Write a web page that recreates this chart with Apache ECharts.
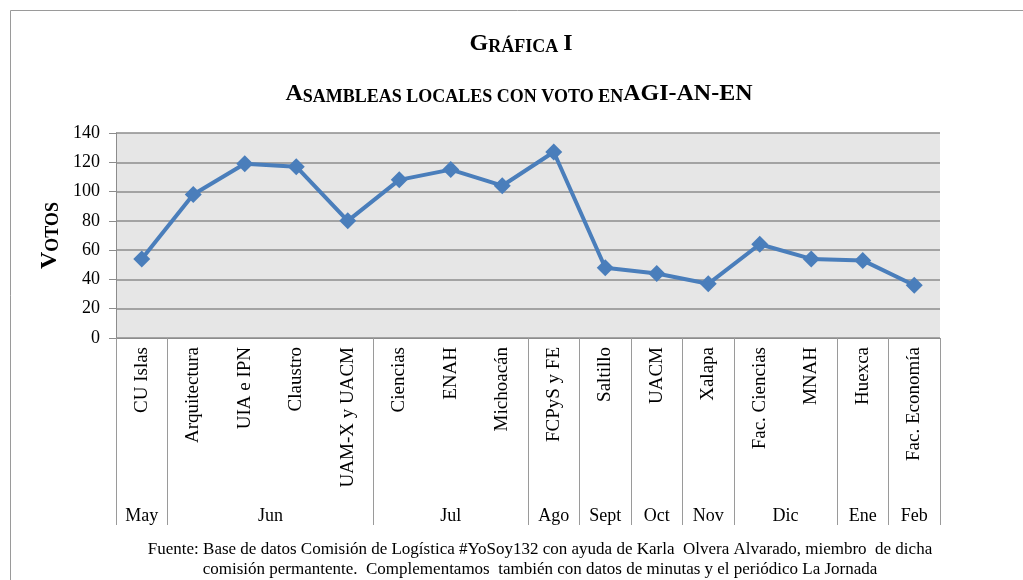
<!DOCTYPE html>
<html>
<head>
<meta charset="utf-8">
<script src="https://cdn.jsdelivr.net/npm/echarts@6/dist/echarts.min.js"></script>
<style>html,body{margin:0;padding:0;background:#fff;}#c{width:1023px;height:580px;}</style>
</head>
<body>
<div id="c"></div>
<script>
var categories = ['CU Islas','Arquitectura','UIA e IPN','Claustro','UAM-X y UACM','Ciencias','ENAH','Michoacán','FCPyS y FE','Saltillo','UACM','Xalapa','Fac. Ciencias','MNAH','Huexca','Fac. Economía'];
var votos = [54, 98, 119, 117, 80, 108, 115, 104, 127, 48, 44, 37, 64, 54, 53, 36];
var months = ['May','Jun','Jul','Ago','Sept','Oct','Nov','Dic','Ene','Feb'];
var monthCounts = [1, 4, 3, 1, 1, 1, 1, 2, 1, 1];
var yTicks = [0, 20, 40, 60, 80, 100, 120, 140];

// Build month-level axis (half-category resolution, boundaryGap false)
var monthSlots = [];
for (var k = 0; k <= categories.length * 2; k++) monthSlots.push('');
var boundaries = {0: true};
var pos = 0;
for (var m = 0; m < months.length; m++) {
  var start = pos, end = pos + monthCounts[m];
  monthSlots[start + end] = months[m];
  boundaries[end * 2] = true;
  pos = end;
}

var FONT = 'Liberation Serif';
var chart = echarts.init(document.getElementById('c'), null, {renderer: 'canvas'});
chart.setOption({
  animation: false,
  backgroundColor: '#ffffff',
  graphic: [{
    type: 'rect', silent: true, z: -10,
    shape: {x: 10.5, y: 10.5, width: 1100, height: 700},
    style: {fill: 'none', stroke: '#9a9a9a', lineWidth: 1}
  }],
  title: [{
    text: '{b|G}{s|RÁFICA} {b|I}',
    left: 521, top: 28, textAlign: 'center', padding: 0,
    textStyle: {
      rich: {
        b: {fontFamily: FONT, fontWeight: 'bold', fontSize: 24, color: '#000', verticalAlign: 'bottom', lineHeight: 28},
        s: {fontFamily: FONT, fontWeight: 'bold', fontSize: 18, color: '#000', verticalAlign: 'bottom', lineHeight: 28}
      }
    }
  }, {
    text: '{b|A}{s|SAMBLEAS LOCALES CON VOTO EN}{b|AGI-AN-EN}',
    left: 519, top: 78, textAlign: 'center', padding: 0,
    textStyle: {
      rich: {
        b: {fontFamily: FONT, fontWeight: 'bold', fontSize: 24, color: '#000', verticalAlign: 'bottom', lineHeight: 28},
        s: {fontFamily: FONT, fontWeight: 'bold', fontSize: 18, color: '#000', verticalAlign: 'bottom', lineHeight: 28}
      }
    }
  }, {
    text: 'Fuente: Base de datos Comisión de Logística #YoSoy132 con ayuda de Karla  Olvera Alvarado, miembro  de dicha\ncomisión permantente.  Complementamos  también con datos de minutas y el periódico La Jornada',
    left: 540, top: 540, textAlign: 'center', padding: 0,
    textStyle: {fontFamily: FONT, fontWeight: 'normal', fontSize: 17, lineHeight: 20, color: '#000'}
  }],
  grid: {
    left: 116, right: 83, top: 133, bottom: 242,
    show: true, backgroundColor: '#e6e6e6', borderWidth: 0
  },
  xAxis: [{
    type: 'category',
    position: 'bottom',
    data: categories,
    boundaryGap: true,
    axisLine: {show: true, lineStyle: {color: '#8c8c8c', width: 1}},
    axisTick: {show: false},
    axisLabel: {rotate: 90, interval: 0, margin: 9, fontFamily: FONT, fontSize: 19, color: '#000'}
  }, {
    type: 'category',
    position: 'bottom',
    offset: 0,
    data: monthSlots,
    boundaryGap: false,
    axisLine: {show: false},
    axisTick: {
      show: true, length: 187, inside: false,
      interval: function (i) { return !!boundaries[i]; },
      lineStyle: {color: '#9a9a9a', width: 1}
    },
    axisLabel: {
      interval: function (i, v) { return v !== ''; },
      margin: 169, fontFamily: FONT, fontSize: 18, color: '#000'
    },
    splitLine: {show: false}
  }],
  yAxis: {
    type: 'value',
    min: 0, max: 140, interval: 20,
    name: '{b|V}{s|OTOS}',
    nameLocation: 'middle',
    nameRotate: 90,
    nameGap: 46,
    nameTextStyle: {
      rich: {
        b: {fontFamily: FONT, fontWeight: 'bold', fontSize: 24, color: '#000', verticalAlign: 'bottom', lineHeight: 28},
        s: {fontFamily: FONT, fontWeight: 'bold', fontSize: 18, color: '#000', verticalAlign: 'bottom', lineHeight: 28}
      }
    },
    axisLine: {show: true, lineStyle: {color: '#8c8c8c', width: 1}},
    axisTick: {show: true, length: 7, lineStyle: {color: '#8c8c8c'}},
    axisLabel: {
      margin: 16, fontFamily: FONT, fontSize: 18, color: '#000',
      formatter: function (v) { return yTicks.indexOf(v) >= 0 ? String(v) : ''; }
    },
    splitLine: {show: true, lineStyle: {color: '#8c8c8c', width: 1.5}}
  },
  series: [{
    type: 'line',
    xAxisIndex: 0,
    data: votos,
    symbol: 'diamond',
    symbolSize: 17,
    lineStyle: {color: '#4a7ebb', width: 4},
    itemStyle: {color: '#4a7ebb'},
    z: 5
  }]
});
</script>
</body>
</html>
